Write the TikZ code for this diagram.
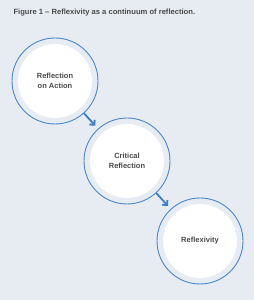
\documentclass[tikz,border=0pt]{standalone}
\usepackage{fontspec}
\setmainfont{Liberation Sans}
\usetikzlibrary{arrows.meta}
\definecolor{bgblue}{HTML}{E7ECF3}
\definecolor{ringblue}{HTML}{4A86C8}
\definecolor{arrowblue}{HTML}{3D7DC8}
\definecolor{txtgray}{HTML}{4A4A4A}
\tikzset{
  ring/.style={circle,draw=ringblue,line width=0.9pt,fill=bgblue,minimum size=86pt,
    align=center,text=txtgray,font=\fontsize{7.5}{10}\selectfont\bfseries,
    path picture={\fill[white] (path picture bounding box.center) circle (37pt);}},
  flow/.style={draw=arrowblue,line width=1.8pt,-{Straight Barb[length=3.5pt,width=7pt]},shorten >=4pt}
}
\begin{document}
\begin{tikzpicture}[x=1pt,y=1pt]
  \fill[bgblue] (0,0) rectangle (254,300);
  \useasboundingbox (0,0) rectangle (254,300);
  \node[anchor=base west,text=txtgray,font=\fontsize{7.6}{9}\selectfont\bfseries] (title) at (10,285)
    {Figure 1 -- Reflexivity as a continuum of reflection.};

  \node[ring] (refl) at (55,219) {Reflection\\on Action};
  \node[ring] (crit) at (127,139) {Critical\\Reflection};
  \node[ring] (reflex) at (200,59) {Reflexivity};

  \draw[flow] (refl) -- (crit);
  \draw[flow] (crit) -- (reflex);
\end{tikzpicture}
\end{document}
